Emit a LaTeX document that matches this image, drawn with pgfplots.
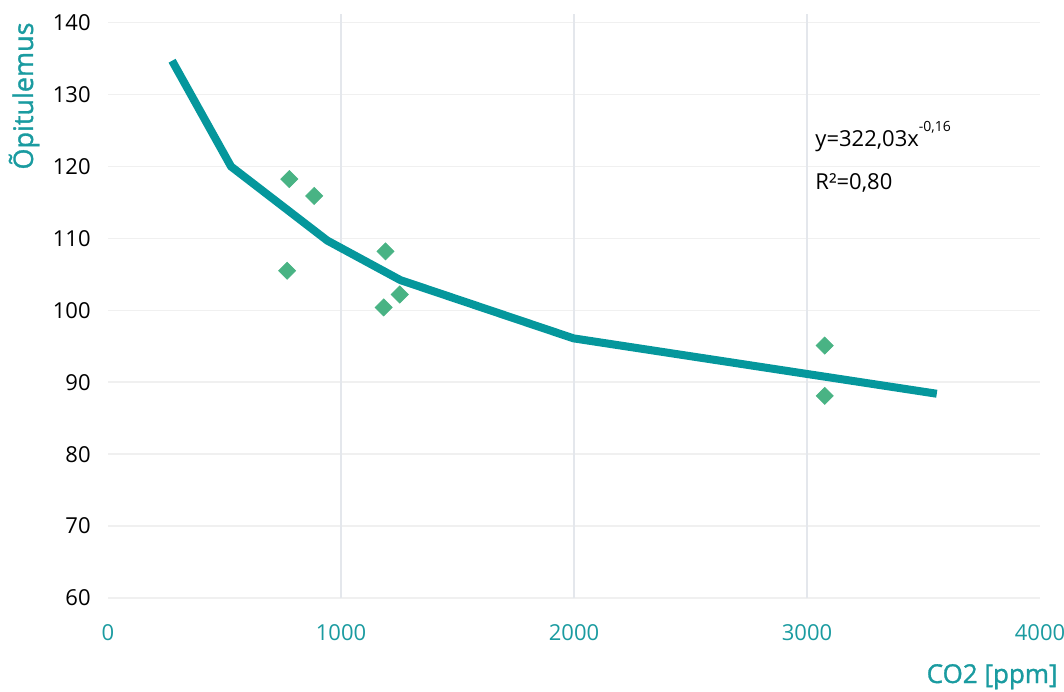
\documentclass[border=0pt]{standalone}
\usepackage{pgfplots}
\pgfplotsset{compat=1.18}
\usepackage{fontspec}
\setmainfont{Open Sans}
\newfontfamily\labelfont[FakeBold=1.2]{Open Sans}
\definecolor{teal1}{HTML}{05979C}
\definecolor{tealtxt}{HTML}{1A9BA0}
\definecolor{dgreen}{HTML}{49B384}
\definecolor{hgrid}{HTML}{F0F0F0}
\definecolor{vgrid}{HTML}{E4E7EC}
\begin{document}
\begin{tikzpicture}
\useasboundingbox (-54pt,-46.5pt) rectangle (478pt,299pt);
\begin{axis}[
  at={(0,0)}, anchor=south west,
  scale only axis, width=466pt, height=292pt,
  xmin=0, xmax=4000, ymin=60, ymax=141.2,
  axis line style={draw=none},
  major tick length=0pt,
  xtick={0,1000,2000,3000,4000},
  ytick={60,70,80,90,100,110,120,130,140},
  scaled x ticks=false,
  /pgf/number format/assume math mode=true,
  /pgf/number format/1000 sep={},
  xticklabel style={font=\fontsize{11}{13}\selectfont, text=tealtxt, inner sep=0pt, anchor=north, yshift=-13pt},
  yticklabel style={font=\fontsize{11}{13}\selectfont, text=black, inner sep=0pt, anchor=east, xshift=-8.5pt},
  ymajorgrids=true,
  y grid style={hgrid, line width=0.8pt},
  extra x ticks={1000,2000,3000},
  extra x tick labels={},
  extra x tick style={grid=major, major grid style={vgrid, line width=1pt}},
  clip=false,
]
\addplot[teal1, line width=4pt, line join=round] coordinates {
  (275,134.7) (528,120.0) (941,109.7) (1255,104.2) (1998,96.1) (3557,88.4)
};
\addplot[only marks, mark=square*, mark size=3pt, mark options={rotate=45, fill=dgreen, draw=dgreen}] coordinates {
  (778,118.25) (885,115.9) (1191,108.2) (769,105.5) (1252,102.2) (1183,100.4) (3076,95.1) (3076,88.1)
};
\end{axis}
\node[rotate=90, anchor=base, text=tealtxt, font=\labelfont\fontsize{13.5}{16}\selectfont] at (-37.5pt,251pt) {Õpitulemus};
\node[anchor=base east, text=tealtxt, font=\labelfont\fontsize{13}{16}\selectfont, inner sep=0pt] at (475pt,-42.5pt) {CO2 [ppm]};
\node[anchor=base west, inner sep=0pt, font=\fontsize{11}{13}\selectfont] at (353.5pt,225.5pt) {y=322,03x\raisebox{1.35ex}{\fontsize{7}{8}\selectfont -0,16}};
\node[anchor=base west, inner sep=0pt, font=\fontsize{11}{13}\selectfont] at (353.5pt,204pt) {R²=0,80};
\end{tikzpicture}
\end{document}
